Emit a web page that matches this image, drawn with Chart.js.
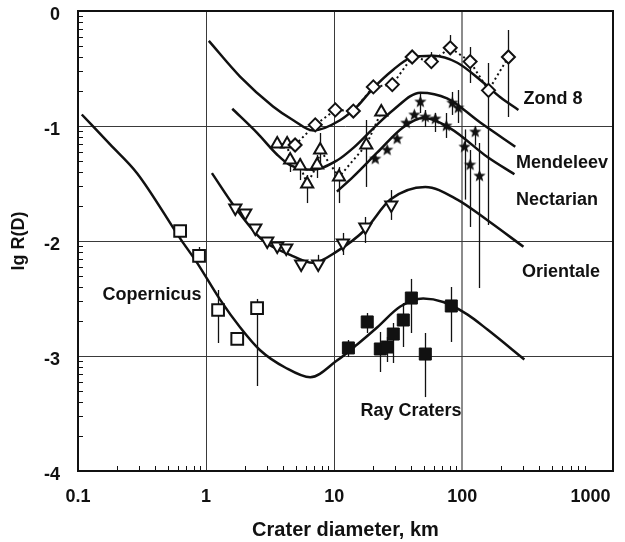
<!DOCTYPE html>
<html>
<head>
<meta charset="utf-8">
<script src="https://cdn.jsdelivr.net/npm/chart.js@4.4.0/dist/chart.umd.min.js"></script>
<style>
  html, body { margin: 0; padding: 0; background: #fff; }
</style>
</head>
<body>
<canvas id="craters" width="625" height="542"></canvas>
<script>
/* Kraterverteilung lg R(D) über dem Durchmesser D (km), log. x-Achse. */

const THEME = {
  ink: "#111",
  grid: "#3a3a3a",
  grid100: "#8c8c8c",
  font: "'Liberation Sans', Arial, Helvetica, sans-serif",
};

// Modellkurven (D in km / lg R)
const copCurveD = [0.107, 0.178, 0.289, 0.638, 0.851, 1.285, 1.84, 2.64, 4.14, 6.5, 10.5, 15.1, 21.7, 32.8, 49.5, 71, 110, 157, 305];
const copCurveR = [-0.90, -1.16, -1.41, -1.99, -2.19, -2.51, -2.75, -2.95, -3.10, -3.185, -3.04, -2.90, -2.75, -2.57, -2.50, -2.53, -2.64, -2.77, -3.03];

const oriCurveD = [1.11, 1.69, 2.74, 4.53, 6.8, 10.5, 17.5, 27.4, 51.4, 91.4, 157, 300];
const oriCurveR = [-1.41, -1.71, -1.99, -2.12, -2.19, -2.09, -1.90, -1.64, -1.53, -1.64, -1.82, -2.05];

const menCurveD = [1.6, 2.5, 3.59, 4.53, 6.86, 10.5, 14.1, 20.2, 28.9, 47, 76, 138, 259];
const menCurveR = [-0.85, -1.06, -1.25, -1.34, -1.38, -1.30, -1.19, -1.02, -0.86, -0.71, -0.76, -0.97, -1.18];

const zondCurveD = [1.05, 1.84, 3.33, 4.79, 6.86, 11.1, 15.1, 20.2, 28.9, 39.3, 59.3, 91.4, 138, 198, 274];
const zondCurveR = [-0.26, -0.57, -0.83, -0.95, -1.04, -0.95, -0.83, -0.67, -0.51, -0.41, -0.39, -0.45, -0.60, -0.75, -0.86];

const necCurveD = [10.5, 14.1, 21.7, 34.6, 49.5, 80.5, 157, 255];
const necCurveR = [-1.57, -1.44, -1.23, -1.01, -0.93, -1.02, -1.27, -1.42];

// Messwerte mit Fehlerbalken (null = kein Balken)
const zondD  = [4.95, 7.11, 10.2, 14.1, 20.2, 28.4, 40.6, 57.3, 80.5, 115, 160, 229];
const zondR  = [-1.165, -0.99, -0.86, -0.87, -0.66, -0.64, -0.40, -0.44, -0.32, -0.44, -0.69, -0.40];
const zondHi = [null, null, null, null, null, null, null, -0.357, -0.209, -0.313, -0.452, -0.165];
const zondLo = [null, null, null, null, null, null, null, -0.487, -0.383, -0.626, -1.861, -0.922];

const menD  = [3.59, 4.29, 4.53, 5.42, 6.15, 7.36, 7.77, 10.9, 17.8, 23.3];
const menR  = [-1.157, -1.157, -1.296, -1.348, -1.504, -1.339, -1.209, -1.443, -1.165, -0.878];
const menHi = [null, null, -1.25, -1.28, -1.426, -1.252, -1.061, -1.357, -0.948, null];
const menLo = [null, null, -1.40, -1.47, -1.67, -1.452, -1.339, -1.67, -1.53, null];

const necD  = [20.9, 25.9, 31.0, 36.5, 42.2, 47.0, 51.4, 61.5, 75, 83.5, 93, 104, 115, 126, 136];
const necR  = [-1.287, -1.209, -1.113, -0.974, -0.904, -0.791, -0.922, -0.939, -1.0, -0.80, -0.843, -1.183, -1.339, -1.052, -1.435];
const necHi = [null, null, null, null, null, -0.713, -0.861, -0.887, -0.887, -0.704, -0.687, -1.03, -1.209, -1.0, -1.148];
const necLo = [null, null, null, null, null, -0.887, -1.009, -1.052, -1.104, -0.904, -0.974, -1.64, -1.878, -1.17, -2.409];

const oriD  = [1.69, 2.02, 2.42, 3.0, 3.59, 4.22, 5.52, 7.5, 11.7, 17.5, 27.9];
const oriR  = [-1.713, -1.757, -1.887, -2.0, -2.043, -2.061, -2.2, -2.2, -2.017, -1.878, -1.687];
const oriHi = [null, null, null, null, null, null, null, -2.12, -1.93, -1.791, -1.557];
const oriLo = [null, null, null, null, null, null, null, -2.25, -2.122, -2.017, -1.817];

const copD  = [0.627, 0.881, 1.24, 1.75, 2.5];
const copR  = [-1.913, -2.13, -2.6, -2.852, -2.583];
const copHi = [null, -2.052, -2.426, null, -2.504];
const copLo = [null, -2.183, -2.887, null, -3.261];

const rayD  = [12.9, 18.1, 22.9, 25.9, 28.9, 34.6, 40.0, 51.4, 82.0];
const rayR  = [-2.93, -2.704, -2.939, -2.922, -2.809, -2.687, -2.496, -2.983, -2.565];
const rayHi = [-2.861, -2.626, -2.791, -2.835, -2.713, -2.539, -2.33, -2.8, -2.4];
const rayLo = [-3.009, -2.8, -3.139, -3.052, -3.061, -2.922, -2.8, -3.357, -2.878];

// Achsen
const X_TICKS = [0.1, 1, 10, 100, 1000];
const X_GRID = [1, 10, 100];
const Y_GRID = [-1, -2, -3];
const MINOR = [2, 3, 4, 5, 6, 7, 8, 9];
const X_DECADES = [0.1, 1, 10, 100];
const Y_LEVELS = [-4, -3, -2, -1];

// Beschriftungen der Serien (Mittelpunkt in Datenkoordinaten)
const LABEL_TEXT = ["Zond 8", "Mendeleev", "Nectarian", "Orientale", "Copernicus", "Ray Craters"];
const LABEL_D = [511, 600, 548, 589, 0.378, 39.8];
const LABEL_R = [-0.765, -1.322, -1.643, -2.27, -2.47, -3.478];

function pts(xs, ys) {
  return xs.map((v, i) => ({ x: v, y: ys[i] }));
}

// gefüllter Fünfzackstern als pointStyle
function starImage(r) {
  const c = document.createElement("canvas");
  const s = Math.ceil(r * 2 + 2);
  c.width = c.height = s;
  const g = c.getContext("2d");
  g.fillStyle = THEME.ink;
  g.beginPath();
  for (let i = 0; i < 10; i++) {
    const rad = i % 2 ? r * 0.42 : r;
    const a = -Math.PI / 2 + (i * Math.PI) / 5;
    g.lineTo(s / 2 + rad * Math.cos(a), s / 2 + rad * Math.sin(a));
  }
  g.closePath();
  g.fill();
  return c;
}

function curve(xs, ys) {
  return {
    data: pts(xs, ys),
    showLine: true,
    borderColor: THEME.ink,
    borderWidth: 2.5,
    pointRadius: 0,
    cubicInterpolationMode: "monotone",
    order: 10,
  };
}

function marks(xs, ys, hi, lo, style) {
  return Object.assign({
    data: pts(xs, ys),
    errHi: hi,
    errLo: lo,
    showLine: false,
    pointBackgroundColor: "#fff",
    pointBorderColor: THEME.ink,
    pointBorderWidth: 2,
    order: 1,
  }, style);
}

const errorBars = {
  id: "errorBars",
  beforeDatasetsDraw(chart) {
    const { ctx, scales: { x, y } } = chart;
    ctx.save();
    ctx.strokeStyle = THEME.ink;
    ctx.lineWidth = 1.3;
    chart.data.datasets.forEach((ds) => {
      if (!ds.errLo) return;
      ds.data.forEach((p, i) => {
        if (ds.errLo[i] == null) return;
        const px = Math.round(x.getPixelForValue(p.x)) + 0.5;
        ctx.beginPath();
        ctx.moveTo(px, y.getPixelForValue(ds.errHi[i]));
        ctx.lineTo(px, y.getPixelForValue(ds.errLo[i]));
        ctx.stroke();
      });
    });
    ctx.restore();
  },
};

const frameAndTicks = {
  id: "frameAndTicks",
  afterDraw(chart) {
    const { ctx, chartArea: a, scales: { x, y } } = chart;
    ctx.save();
    ctx.strokeStyle = THEME.ink;
    ctx.lineWidth = 1;
    ctx.beginPath();
    // kleine Teilstriche nach innen
    X_DECADES.forEach((d) => MINOR.forEach((m) => {
      const px = Math.round(x.getPixelForValue(d * m)) + 0.5;
      ctx.moveTo(px, a.bottom);
      ctx.lineTo(px, a.bottom - 5);
    }));
    Y_LEVELS.forEach((k) => MINOR.forEach((m) => {
      const py = Math.round(y.getPixelForValue(k + Math.log10(m))) + 0.5;
      ctx.moveTo(a.left, py);
      ctx.lineTo(a.left + 5, py);
    }));
    ctx.stroke();
    ctx.lineWidth = 2;
    ctx.strokeRect(a.left, a.top, a.right - a.left, a.bottom - a.top);

    // Serienbeschriftung
    ctx.fillStyle = THEME.ink;
    ctx.font = "bold 18px " + THEME.font;
    ctx.textAlign = "center";
    ctx.textBaseline = "middle";
    LABEL_TEXT.forEach((t, i) => {
      ctx.fillText(t, x.getPixelForValue(LABEL_D[i]), y.getPixelForValue(LABEL_R[i]));
    });
    ctx.restore();
  },
};

new Chart(document.getElementById("craters"), {
  type: "scatter",
  data: {
    datasets: [
      curve(copCurveD, copCurveR),
      curve(oriCurveD, oriCurveR),
      curve(menCurveD, menCurveR),
      curve(zondCurveD, zondCurveR),
      curve(necCurveD, necCurveR),
      marks(zondD, zondR, zondHi, zondLo, {
        pointStyle: "rectRot", pointRadius: 6.5,
        showLine: true, borderColor: THEME.ink, borderWidth: 2, borderDash: [2, 3],
      }),
      marks(menD, menR, menHi, menLo, {
        pointStyle: "triangle", pointRadius: 7,
        showLine: true, borderColor: THEME.ink, borderWidth: 2, borderDash: [2, 3],
      }),
      marks(necD, necR, necHi, necLo, { pointStyle: starImage(6.5), pointRadius: 6 }),
      marks(oriD, oriR, oriHi, oriLo, { pointStyle: "triangle", pointRotation: 180, pointRadius: 7 }),
      marks(copD, copR, copHi, copLo, { pointStyle: "rect", pointRadius: 8.3 }),
      marks(rayD, rayR, rayHi, rayLo, {
        pointStyle: "rect", pointRadius: 8.5,
        pointBackgroundColor: THEME.ink, pointBorderWidth: 1,
      }),
    ],
  },
  options: {
    responsive: false,
    animation: false,
    layout: { padding: { top: 11, right: 12, left: 0, bottom: 0 } },
    plugins: { legend: { display: false }, tooltip: { enabled: false } },
    scales: {
      x: {
        type: "logarithmic",
        min: 0.1,
        max: 1500,
        afterBuildTicks: (s) => { s.ticks = X_TICKS.map((v) => ({ value: v })); },
        afterFit: (s) => { s.height = 71; s.paddingLeft = 0; s.paddingRight = 0; },
        ticks: {
          autoSkip: false,
          maxRotation: 0,
          padding: 15,
          color: THEME.ink,
          font: { family: THEME.font, size: 18, weight: "bold" },
          callback: (v) => String(v),
        },
        grid: {
          drawTicks: false,
          color: (c) => (X_GRID.includes(c.tick.value) ? (c.tick.value === 100 ? THEME.grid100 : THEME.grid) : "transparent"),
          lineWidth: (c) => (c.tick.value === 100 ? 2 : 1),
        },
        border: { display: false },
        title: {
          display: true,
          text: "Crater diameter, km",
          color: THEME.ink,
          padding: { top: 0, bottom: 0 },
          font: { family: THEME.font, size: 20, weight: "bold" },
        },
      },
      y: {
        min: -4,
        max: 0,
        afterFit: (s) => { s.width = 78; s.paddingTop = 0; s.paddingBottom = 0; },
        ticks: {
          stepSize: 1,
          padding: 18,
          labelOffset: 4,
          color: THEME.ink,
          font: { family: THEME.font, size: 18, weight: "bold" },
          callback: (v) => String(v),
        },
        grid: {
          drawTicks: false,
          color: (c) => (Y_GRID.includes(c.tick.value) ? THEME.grid : "transparent"),
        },
        border: { display: false },
        title: {
          display: true,
          text: "lg R(D)",
          color: THEME.ink,
          padding: { top: 8, bottom: 0 },
          font: { family: THEME.font, size: 18, weight: "bold" },
        },
      },
    },
  },
  plugins: [errorBars, frameAndTicks],
});
</script>
</body>
</html>
